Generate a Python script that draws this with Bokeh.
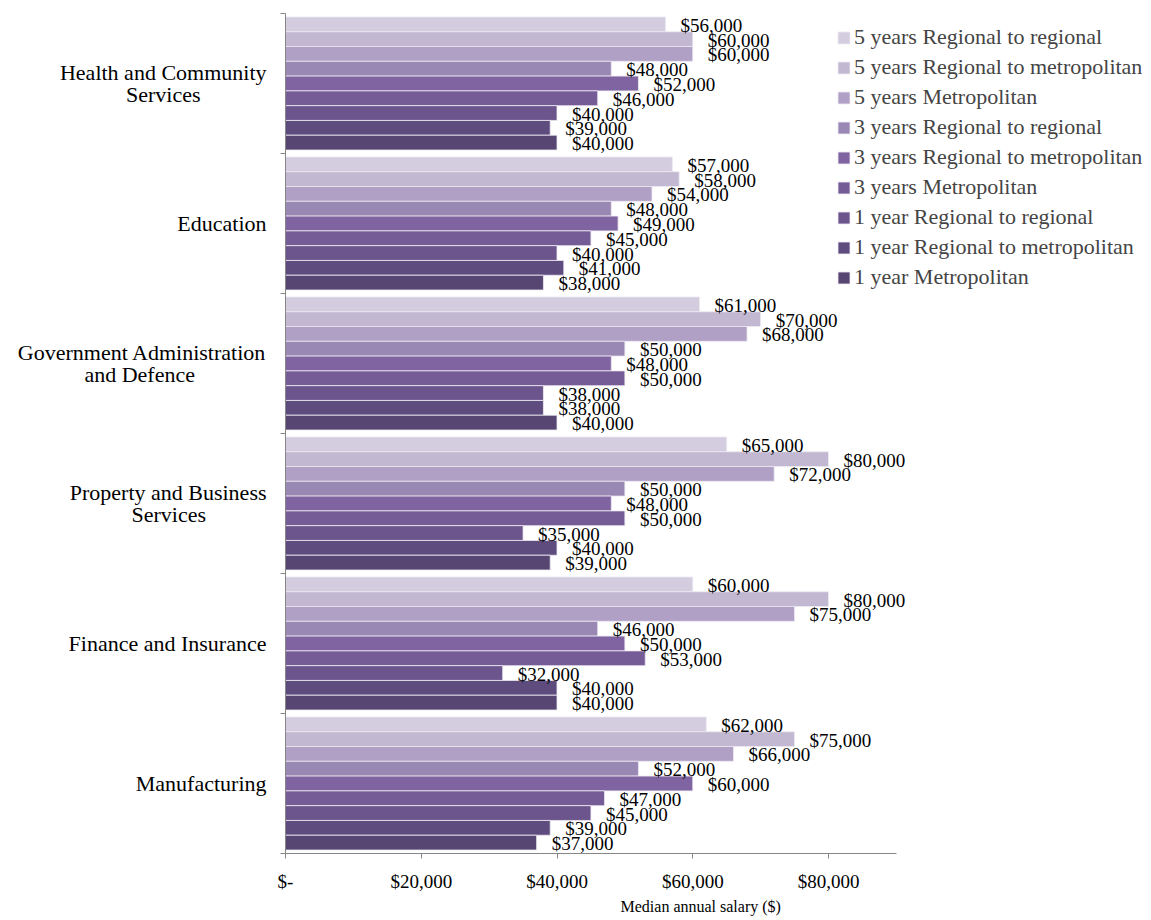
from bokeh.plotting import figure
from bokeh.models import (Range1d, FixedTicker, ColumnDataSource, Legend, LegendItem,
                          Title, NumeralTickFormatter)
from bokeh.transform import dodge
from bokeh.core.properties import value
from bokeh.embed import file_html
from bokeh.resources import INLINE

categories = ["Health and Community Services", "Education",
              "Government Administration and Defence", "Property and Business Services",
              "Finance and Insurance", "Manufacturing"]
category_lines = [["Health and Community", "Services"], ["Education"],
                  ["Government Administration", "and Defence"],
                  ["Property and Business", "Services"],
                  ["Finance and Insurance"], ["Manufacturing"]]

series_names = ["5 years Regional to regional", "5 years Regional to metropolitan",
                "5 years Metropolitan", "3 years Regional to regional",
                "3 years Regional to metropolitan", "3 years Metropolitan",
                "1 year Regional to regional", "1 year Regional to metropolitan",
                "1 year Metropolitan"]

five_rr = [56000, 57000, 61000, 65000, 60000, 62000]
five_rm = [60000, 58000, 70000, 80000, 80000, 75000]
five_m = [60000, 54000, 68000, 72000, 75000, 66000]
three_rr = [48000, 48000, 50000, 50000, 46000, 52000]
three_rm = [52000, 49000, 48000, 48000, 50000, 60000]
three_m = [46000, 45000, 50000, 50000, 53000, 47000]
one_rr = [40000, 40000, 38000, 35000, 32000, 45000]
one_rm = [39000, 41000, 38000, 40000, 40000, 39000]
one_m = [40000, 38000, 40000, 39000, 40000, 37000]
series_values = [five_rr, five_rm, five_m, three_rr, three_rm, three_m, one_rr, one_rm, one_m]

colors = ["#D4CDE0", "#C2B8D1", "#B1A0C6", "#9A88B4", "#8064A2",
          "#755C96", "#6C558C", "#5F4C7F", "#574572"]

x_ticks = [0, 20000, 40000, 60000, 80000]
x_axis_max = 90000

SERIF = "Liberation Serif"
n_cat = len(categories)
n_ser = len(series_names)
bh = 0.1056
pos = [n_cat - k - 0.5 for k in range(n_cat)]

# approximate Times/Liberation Serif advance widths (em) to centre the wrapped label lines
_W = {' ': .25, 'a': .444, 'b': .5, 'c': .444, 'd': .5, 'e': .444, 'f': .333, 'g': .5, 'h': .5,
      'i': .278, 'l': .278, 'm': .778, 'n': .5, 'o': .5, 'p': .5, 'r': .333, 's': .389, 't': .278,
      'u': .5, 'v': .5, 'y': .5, 'A': .722, 'B': .667, 'C': .667, 'D': .722, 'E': .611, 'F': .556,
      'G': .722, 'H': .722, 'I': .333, 'M': .889, 'P': .556, 'S': .556}


def _width(s):
    return sum(_W.get(ch, .5) for ch in s)


def centred(lines):
    if len(lines) == 1:
        return lines[0]
    wmax = max(_width(l) for l in lines)
    out = []
    for l in lines:
        pad = int(round((wmax - _width(l)) / 2 / 0.25))
        out.append(l + "\u00a0" * pad)
    return "\n".join(out)


W, H = 1150, 918
LEFT, TOP, BOTTOM = 285, 13, 853
px_per_unit = 543.0 / 80000          # axis scale: 80,000 spans 543 px
x_end = (W - LEFT) / px_per_unit      # frame runs to the right edge; axis line bounded at 90,000

p = figure(width=W, height=H, output_backend="svg", toolbar_location=None,
           x_range=Range1d(0, x_end), y_range=Range1d(0, n_cat),
           min_border_left=LEFT, min_border_right=0, min_border_top=TOP,
           min_border_bottom=H - BOTTOM)
p.xgrid.visible = False
p.ygrid.visible = False
p.outline_line_color = None
p.background_fill_color = "white"
p.border_fill_color = "white"

renderers = []
text_specs = []
for i, (name, vals, col) in enumerate(zip(series_names, series_values, colors)):
    src = ColumnDataSource(dict(x=vals, y=pos, label=["${:,}".format(v) for v in vals]))
    off = (n_ser // 2 - i) * bh
    r = p.hbar(y=dodge("y", off, range=p.y_range), left=0, right="x", height=bh,
               source=src, fill_color=col, line_color="#EEEAF3", line_width=1, line_alpha=0.8)
    renderers.append(r)
    text_specs.append((src, off))

for src, off in text_specs:
    p.text(x="x", y=dodge("y", off, range=p.y_range), text="label", source=src,
           x_offset=15, y_offset=1, text_baseline="middle", text_align="left",
           text_font=value(SERIF), text_font_size="19px", text_color="black")

# Y axis
ya = p.yaxis[0]
ya.ticker = FixedTicker(ticks=pos, minor_ticks=list(range(n_cat + 1)))
ya.major_label_overrides = {float(pv): centred(lines) for pv, lines in zip(pos, category_lines)}
ya.major_tick_line_color = None
ya.minor_tick_in = 0
ya.minor_tick_out = 5
ya.minor_tick_line_color = "#868686"
ya.axis_line_color = "#868686"
ya.major_label_standoff = 13
ya.major_label_text_font = SERIF
ya.major_label_text_font_size = "22px"
ya.major_label_text_line_height = 0.9
ya.major_label_text_color = "black"

# X axis
xa = p.xaxis[0]
xa.ticker = FixedTicker(ticks=x_ticks)
xa.bounds = (0, x_axis_max)
xa.formatter = NumeralTickFormatter(format="$0,0")
xa.major_label_overrides = {0: "$-"}
xa.major_tick_in = 0
xa.major_tick_out = 5
xa.minor_tick_line_color = None
xa.major_tick_line_color = "#868686"
xa.axis_line_color = "#868686"
xa.major_label_standoff = 12
xa.major_label_text_font = SERIF
xa.major_label_text_font_size = "19px"
xa.major_label_text_color = "black"

p.add_layout(Title(text="Median annual salary ($)", align="left", offset=335,
                   text_font=SERIF, text_font_size="16px", text_font_style="normal",
                   text_color="black", standoff=2), "below")

legend = Legend(items=[LegendItem(label=n, renderers=[r]) for n, r in zip(series_names, renderers)],
                location=(551, 563), padding=0, margin=0, spacing=4,
                glyph_width=15, glyph_height=15, label_height=22, label_standoff=3,
                label_text_font=SERIF, label_text_font_size="22px",
                border_line_color=None, background_fill_alpha=0)
p.add_layout(legend, "center")

open("out.html", "w").write(file_html(p, INLINE))
